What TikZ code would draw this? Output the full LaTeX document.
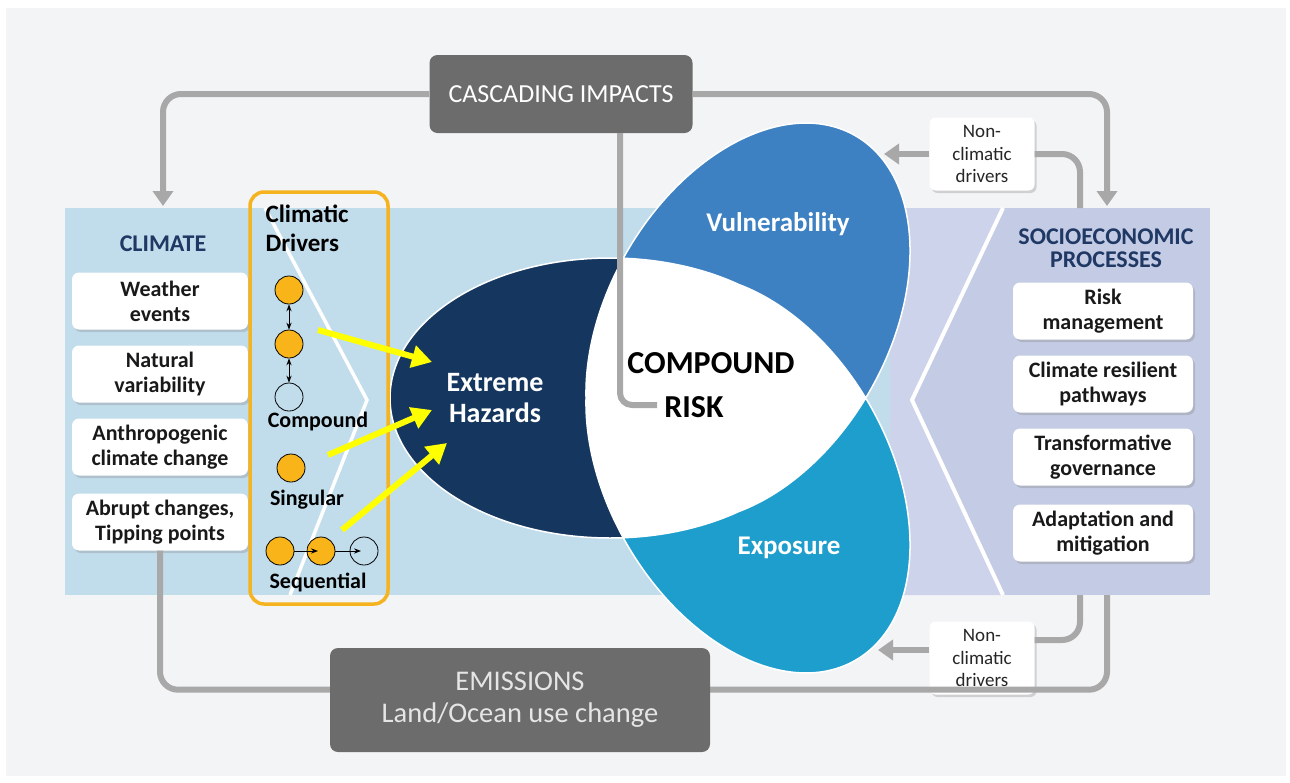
\documentclass[tikz,border=0pt]{standalone}
\usepackage{fontspec}
\setmainfont{Carlito}
\usetikzlibrary{arrows.meta,shadows}

\definecolor{pagegray}{HTML}{F3F4F6}
\definecolor{climblue}{HTML}{C1DDEC}
\definecolor{socilav}{HTML}{C4CBE4}
\definecolor{socilavlight}{HTML}{CDD3EA}
\definecolor{titlenavy}{HTML}{1F3864}
\definecolor{hazardnavy}{HTML}{15375F}
\definecolor{vulnblue}{HTML}{3D81C2}
\definecolor{exposcyan}{HTML}{1E9ECC}
\definecolor{loopgray}{HTML}{A8A8A8}
\definecolor{darkbox}{HTML}{6C6C6C}
\definecolor{frameorange}{HTML}{F5B320}
\definecolor{dotorange}{HTML}{F8B418}
\definecolor{arrowyellow}{HTML}{FFFF00}

% the three petals, 120 degrees apart round (700,398)
\def\petalhaz{(610,398) circle [x radius=220, y radius=140]}
\def\petalvul{(748,322) circle [x radius=215, y radius=140, rotate=60]}
\def\petalexp{(748,474) circle [x radius=215, y radius=140, rotate=-60]}

\begin{document}
\begin{tikzpicture}[x=1pt,y=-1pt,>=Stealth,
  factbox/.style={fill=white, rounded corners=7pt, minimum width=176pt,
    minimum height=57pt, align=center, inner sep=2pt, text=black!90,
    font=\bfseries\fontsize{22}{25}\selectfont,
    drop shadow={opacity=0.3, shadow xshift=2pt, shadow yshift=-2.5pt}},
  sidebox/.style={fill=white, rounded corners=6pt, minimum width=105pt,
    minimum height=73pt, align=center, inner sep=1pt, text=black!85,
    font=\fontsize{19}{22.5}\selectfont,
    drop shadow={opacity=0.3, shadow xshift=2pt, shadow yshift=-2.5pt}},
  greybox/.style={fill=darkbox, rounded corners=8pt, text=white, align=center},
  loopline/.style={draw=loopgray, line width=6pt, rounded corners=18pt},
  looptip/.style={-{Triangle[width=20pt,length=15pt]}},
  hazarrow/.style={draw=arrowyellow, line width=6pt,
    -{Triangle[width=22pt,length=20pt]}},
  drvdot/.style={circle, draw=black, line width=0.8pt, fill=dotorange,
    minimum size=28pt, inner sep=0pt},
  emptydot/.style={drvdot, fill=none},
  drvlabel/.style={font=\bfseries\fontsize{22}{24}\selectfont},
  petaltext/.style={text=white, align=center,
    font=\bfseries\fontsize{28}{31}\selectfont},
  bandtitle/.style={text=titlenavy, align=center,
    font=\bfseries\fontsize{24}{23}\selectfont}
]
\useasboundingbox (0,0) rectangle (1290,782);
\fill[white] (0,0) rectangle (1290,782);
\fill[pagegray] (6,8) rectangle (1286,776);

% ---- bands ----
\fill[climblue] (65,208) rectangle (890,595);
\fill[socilav] (890,208) rectangle (1210,595);
\fill[socilavlight] (890,208) -- (1003,208) -- (912,400) -- (1003,595) -- (890,595) -- cycle;
\draw[white, line width=3.5pt] (265,208) -- (367,400) -- (290,595);
\draw[white, line width=4pt] (1003,208) -- (912,400) -- (1003,595);

% ---- loops ----
\node[greybox, minimum width=263pt, minimum height=78pt,
  font=\fontsize{26}{26}\selectfont] (cascade) at (561,94) {CASCADING IMPACTS};
\coordinate (climtop) at (163,206);
\coordinate (socitop) at (1107,206);
\draw[loopline, looptip] (cascade.west) -| (climtop);
\draw[loopline, looptip] (cascade.east) -| (socitop);

\node[sidebox] (ncdtop) at (982,154) {Non-\\climatic\\drivers};
\node[sidebox] (ncdbot) at (982,658) {Non-\\climatic\\drivers};
\coordinate (ncdtopfoot) at (1080,208);
\coordinate (ncdbotfoot) at (1080,595);
\coordinate (vulin) at (884,154);
\coordinate (expin) at (878,650);
\draw[loopline] (ncdtop.east) -| (ncdtopfoot);
\draw[loopline] (ncdbotfoot) |- ([yshift=18pt]ncdbot.east);

% ---- petals ----
\fill[hazardnavy] \petalhaz;
\fill[vulnblue] \petalvul;
\fill[exposcyan] \petalexp;
\begin{scope}
  \clip \petalhaz;
  \fill[white] \petalvul;
  \fill[white] \petalexp;
\end{scope}
\begin{scope}
  \clip \petalvul;
  \fill[white] \petalexp;
\end{scope}
\draw[white, line width=1.5pt] \petalhaz \petalvul \petalexp;

\draw[loopline, looptip] (ncdtop.west) -- (vulin);
\draw[loopline, looptip] ([yshift=8pt]ncdbot.west) -- (expin);
\coordinate (riskhook) at (657,405);
\draw[loopline, rounded corners=12pt] ([xshift=59pt]cascade.south) |- (riskhook);

\node[petaltext] (hazards) at (495,398) {Extreme\\Hazards};
\node[petaltext, font=\bfseries\fontsize{27}{31}\selectfont] (vuln) at (778,224) {Vulnerability};
\node[petaltext, font=\bfseries\fontsize{27}{31}\selectfont] (expo) at (789,548) {Exposure};
\node[font=\bfseries\fontsize{32}{32}\selectfont] (compound) at (711,363) {COMPOUND};
\node[font=\bfseries\fontsize{32}{32}\selectfont] (risk) at (694,407) {RISK};

% ---- left: climate ----
\node[bandtitle] (climtitle) at (163,244) {CLIMATE};
\foreach \name/\y/\txt in {w1/301/{Weather\\events}, w2/374/{Natural\\variability},
    w3/447/{Anthropogenic\\climate change}, w4/522/{Abrupt changes,\\Tipping points}}
  \node[factbox] (\name) at (160,\y) {\txt};

% ---- bottom loop ----
\draw[loopline] (w4.south) -- ++(0,139) -| (ncdbotfoot -| socitop);
\node[greybox, minimum width=380pt, minimum height=104pt, text=white!90!black,
  font=\fontsize{28.5}{32}\selectfont] (emis) at (520,700) {EMISSIONS\\Land/Ocean use change};

% ---- climatic drivers ----
\node[draw=frameorange, line width=3.5pt, rounded corners=14pt,
  minimum width=138pt, minimum height=412pt] (drvframe) at (319,398) {};
\node[anchor=north west, align=left, font=\bfseries\fontsize{25}{29}\selectfont]
  (drvtitle) at (262,201) {Climatic\\Drivers};
\node[drvdot] (c1) at (289,290) {};
\node[drvdot] (c2) at (289,344) {};
\node[emptydot] (c3) at (289,397) {};
\draw[{Stealth[length=7pt]}-{Stealth[length=7pt]}, line width=0.9pt] (c1.south) -- (c2.north);
\draw[{Stealth[length=7pt]}-{Stealth[length=7pt]}, line width=0.9pt] (c2.south) -- (c3.north);
\node[drvlabel] (lblcomp) at (318,422) {Compound};
\node[drvdot] (c4) at (291,468) {};
\node[drvlabel] (lblsing) at (307,500) {Singular};
\node[drvdot] (s1) at (280,551) {};
\node[drvdot] (s2) at (321,551) {};
\node[emptydot] (s3) at (364,551) {};
\draw[-{Stealth[length=7pt]}, line width=0.9pt] (s1.east) -- ([xshift=-3pt]s2.center);
\draw[-{Stealth[length=7pt]}, line width=0.9pt] (s2.east) -- ([xshift=-3pt]s3.center);
\node[drvlabel] (lblseq) at (318,582) {Sequential};

\coordinate (hz1) at (432,362);
\coordinate (hz2) at (432,410);
\coordinate (hz3) at (447,443);
\draw[hazarrow] ([shift={(29pt,14pt)}]c2.center) -- (hz1);
\draw[hazarrow] ([shift={(37pt,13pt)}]c4.center) -- (hz2);
\draw[hazarrow] ([shift={(21pt,21pt)}]s2.center) -- (hz3);

% ---- right: socioeconomic ----
\node[bandtitle] (socititle) at (1106,248) {SOCIOECONOMIC\\PROCESSES};
\foreach \name/\y/\txt in {r1/311/{Risk\\management}, r2/384/{Climate resilient\\pathways},
    r3/457/{Transformative\\governance}, r4/533/{Adaptation and\\mitigation}}
  \node[factbox, minimum width=180pt] (\name) at (1103,\y) {\txt};
\end{tikzpicture}
\end{document}
